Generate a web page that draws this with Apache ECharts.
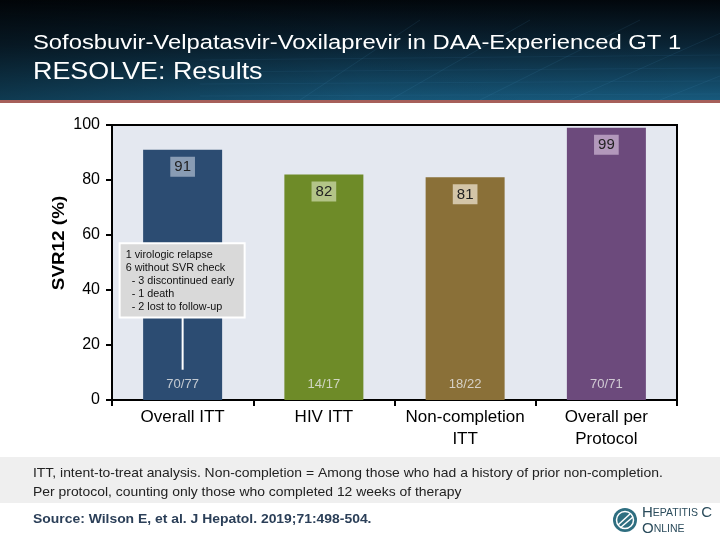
<!DOCTYPE html>
<html><head><meta charset="utf-8">
<script src="https://cdn.jsdelivr.net/npm/echarts@6/dist/echarts.min.js"></script>
<style>html,body{margin:0;padding:0;background:#fff}#c{width:720px;height:540px}</style>
</head><body><div id="c"></div>
<script>
const categories = ['Overall ITT', 'HIV ITT', 'Non-completion\nITT', 'Overall per\nProtocol'];
const svrValues = [91, 82, 81, 99];
const fractions = ['70/77', '14/17', '18/22', '70/71'];
const barColors = ['#2C4C72', '#6E8B28', '#8A7038', '#6C4A7C'];
const labelBoxColors = ['rgba(200,210,225,0.6)', 'rgba(225,235,200,0.6)', 'rgba(235,225,205,0.75)', 'rgba(225,205,230,0.6)'];
const yTicks = [0, 20, 40, 60, 80, 100];
const annotationLines = ['1 virologic relapse', '6 without SVR check', '  - 3 discontinued early', '  - 1 death', '  - 2 lost to follow-up'];
const fractionLevel = 5.5;

const FONT = 'Liberation Sans, Arial, sans-serif';
const chart = echarts.init(document.getElementById('c'));

const headerLines = [];
for (let i = 0; i < 6; i++) {
  headerLines.push({type:'line', shape:{x1:300+i*90, y1:100, x2:420+i*110, y2:20}, style:{stroke:'rgba(90,170,220,0.10)', lineWidth:1}, silent:true});
}
for (let j = 0; j < 4; j++) {
  headerLines.push({type:'line', shape:{x1:200, y1:60+j*12, x2:720, y2:55+j*13}, style:{stroke:'rgba(90,170,220,0.08)', lineWidth:1}, silent:true});
}

const option = {
  animation: false,
  backgroundColor: '#fff',
  grid: {left:112, right:43, top:125, bottom:140, show:true, backgroundColor:'#E4E8F0', borderColor:'#000', borderWidth:2},
  xAxis: {
    type:'category', data:categories,
    axisLine:{lineStyle:{color:'#000', width:2}},
    axisTick:{show:true, interval:0, length:6, lineStyle:{color:'#000', width:2}},
    axisLabel:{interval:0, fontFamily:FONT, fontSize:17, color:'#000', lineHeight:22, margin:6}
  },
  yAxis: {
    type:'value', min:yTicks[0], max:yTicks[yTicks.length-1], interval:20,
    axisLine:{show:true, lineStyle:{color:'#000', width:2}},
    axisTick:{show:true, length:6, lineStyle:{color:'#000', width:2}},
    axisLabel:{fontFamily:FONT, fontSize:16, color:'#000', margin:12},
    splitLine:{show:false}
  },
  series: [
    {
      type:'bar', barWidth:79,
      data: svrValues.map((v,i)=>({value:v, itemStyle:{color:barColors[i]},
        label:{backgroundColor:labelBoxColors[i]}})),
      label:{show:true, position:'insideTop', distance:7, fontFamily:FONT, fontSize:15, color:'#222',
        padding:[3,4,2,4]}
    },
    {
      type:'scatter', symbolSize:0,
      data: fractions.map((f,i)=>({value:[categories[i], fractionLevel], name:f})),
      label:{show:true, position:'inside', formatter:p=>p.name, fontFamily:FONT, fontSize:13, color:'#E8E8E8'},
      silent:true, z:5
    }
  ],
  graphic: [
    {type:'rect', shape:{x:0,y:0,width:720,height:100}, silent:true,
      style:{fill:new echarts.graphic.LinearGradient(0,0,0,1,[{offset:0,color:'#02070C'},{offset:0.45,color:'#0A2435'},{offset:1,color:'#17597C'}])}},
    {type:'rect', shape:{x:0,y:0,width:720,height:100}, silent:true,
      style:{fill:new echarts.graphic.LinearGradient(0,0,1,0,[{offset:0,color:'rgba(0,0,0,0.35)'},{offset:0.5,color:'rgba(0,0,0,0.05)'},{offset:1,color:'rgba(0,0,0,0)'}])}},
    ...headerLines,
    {type:'rect', shape:{x:0,y:100,width:720,height:3}, style:{fill:'#A65F5A'}, silent:true},
    {type:'text', x:33, y:33, scaleX:1.19, style:{text:'Sofosbuvir-Velpatasvir-Voxilaprevir in DAA-Experienced GT 1', fontFamily:FONT, fontSize:20, fill:'#fff'}},
    {type:'text', x:33, y:60, scaleX:1.12, style:{text:'RESOLVE: Results', fontFamily:FONT, fontSize:24, fill:'#fff'}},
    {type:'text', x:60, y:243, rotation:Math.PI/2, scaleX:1.18, style:{text:'SVR12 (%)', fontFamily:FONT, fontSize:16, fontWeight:'bold', fill:'#000', align:'center', verticalAlign:'middle'}},
    {type:'rect', shape:{x:0,y:457,width:720,height:46}, style:{fill:'#EFEFEF'}, silent:true},
    {type:'text', x:33, y:464, scaleX:1.07, style:{text:'ITT, intent-to-treat analysis. Non-completion = Among those who had a history of prior non-completion.\nPer protocol, counting only those who completed 12 weeks of therapy', fontFamily:FONT, fontSize:13, lineHeight:19, fill:'#222'}},
    {type:'text', x:33, y:513, scaleX:1.07, style:{text:'Source: Wilson E, et al. J Hepatol. 2019;71:498-504.', fontFamily:FONT, fontSize:13, fontWeight:'bold', fill:'#2B3F58'}},
    {type:'circle', shape:{cx:625, cy:520, r:12}, style:{fill:'#2E6E80'}, silent:true},
    {type:'circle', shape:{cx:625, cy:520, r:8.5}, style:{fill:'none', stroke:'#fff', lineWidth:1.5}, silent:true},
    {type:'line', shape:{x1:618,y1:525,x2:630,y2:514}, style:{stroke:'#fff', lineWidth:1.5}, silent:true},
    {type:'line', shape:{x1:620,y1:528,x2:633,y2:517}, style:{stroke:'#fff', lineWidth:1.5}, silent:true},
    {type:'text', x:642, y:505, style:{text:'{b|H}{s|EPATITIS} {b|C}\n{b|O}{s|NLINE}', fontFamily:FONT, fill:'#2B4C5C',
      rich:{b:{fontSize:15, fontFamily:FONT, fill:'#2B4C5C', lineHeight:16}, s:{fontSize:10.5, fontFamily:FONT, fill:'#2B4C5C', lineHeight:16}}}}
  ]
};
chart.setOption(option);

// annotation box anchored to the first bar via the axes
const topLeft = chart.convertToPixel({gridIndex:0}, [0, 57]);
const botP = chart.convertToPixel({gridIndex:0}, [0, 30]);
const lineEnd = chart.convertToPixel({gridIndex:0}, [0, 11]);
const bx = topLeft[0] - 63;
const boxW = 125;
chart.setOption({graphic: option.graphic.concat([
  {type:'line', shape:{x1:topLeft[0], y1:botP[1], x2:lineEnd[0], y2:lineEnd[1]}, style:{stroke:'#fff', lineWidth:2}, z:10},
  {type:'rect', shape:{x:bx, y:topLeft[1], width:boxW, height:botP[1]-topLeft[1]}, style:{fill:'#D9D9D9', stroke:'#fff', lineWidth:2}, z:10},
  {type:'text', x:bx+6, y:topLeft[1]+5, scaleX:1.08, style:{text:annotationLines.join('\n'), fontFamily:FONT, fontSize:10, lineHeight:13, fill:'#111'}, z:11}
])});
</script></body></html>
